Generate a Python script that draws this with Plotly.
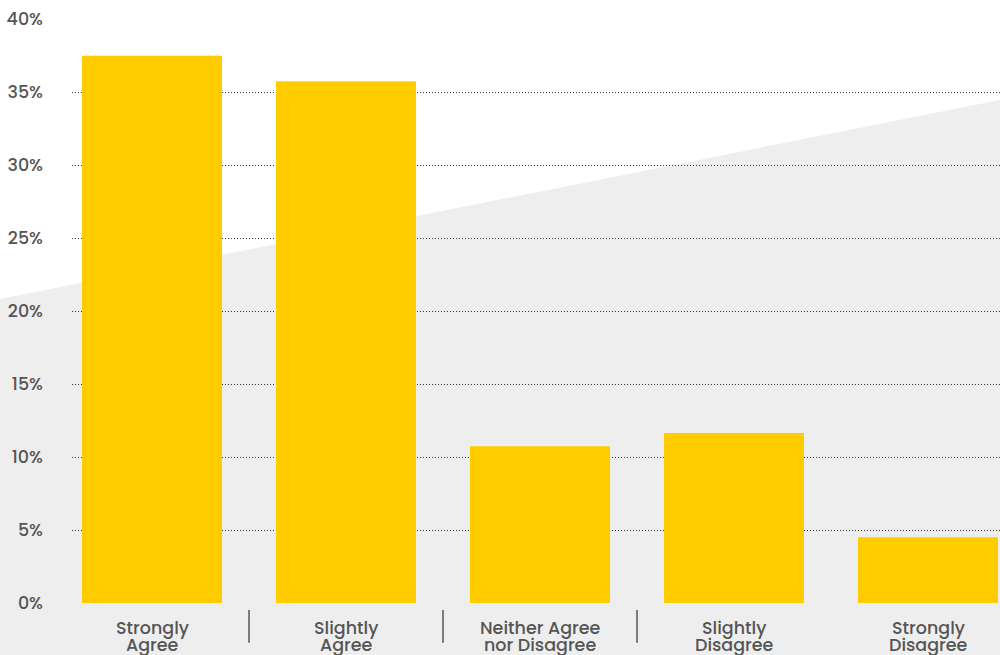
import plotly.graph_objects as go

categories = ["Strongly<br>Agree", "Slightly<br>Agree", "Neither Agree<br>nor Disagree",
              "Slightly<br>Disagree", "Strongly<br>Disagree"]
values = [37.5, 35.75, 10.75, 11.65, 4.5]
y_ticks = [0, 5, 10, 15, 20, 25, 30, 35, 40]
y_tick_labels = [f"{v}%" for v in y_ticks]
separators = [0.5, 1.5, 2.5]

FONT = "Poppins, Inter, Lato, sans-serif"
TXT = "#555555"
FS = 17.5

fig = go.Figure()
fig.add_trace(go.Bar(
    x=list(range(len(categories))), y=values,
    marker=dict(color="#FFCC00", line=dict(width=0)),
    hoverinfo="skip",
))

# gray background wedge
fig.add_shape(type="path", xref="paper", yref="paper", layer="below",
              path="M -0.0776 0.5206 L 1 0.8613 L 1 -0.2 L -0.0776 -0.2 Z",
              fillcolor="#eeeeee", line=dict(width=0))

for s in separators:
    fig.add_shape(type="line", xref="x", yref="paper", x0=s, x1=s,
                  y0=-0.012, y1=-0.068, line=dict(color=TXT, width=1.5))

# category labels (one annotation per line to get the tight line spacing)
line_y = [-0.0428, -0.0719]
for i, cat in enumerate(categories):
    for j, part in enumerate(cat.split("<br>")):
        fig.add_annotation(x=i, xref="x", y=line_y[j], yref="paper",
                           text=part, showarrow=False, xanchor="center",
                           yanchor="middle",
                           font=dict(family=FONT, size=FS, color=TXT, weight=500))

fig.update_layout(
    width=1000, height=655,
    margin=dict(l=72, r=0, t=19, b=52),
    paper_bgcolor="white", plot_bgcolor="rgba(0,0,0,0)",
    showlegend=False, bargap=0.2784,
    font=dict(family=FONT, color=TXT, size=FS),
    xaxis=dict(range=[-0.4124, 4.3711], tickmode="array",
               tickvals=list(range(len(categories))),
               showticklabels=False,
               showgrid=False, zeroline=False, showline=False, ticks=""),
    yaxis=dict(range=[0, 40.02], tickmode="array", tickvals=y_ticks,
               ticktext=y_tick_labels, showgrid=True, gridcolor="#333333",
               griddash="1px,2px", gridwidth=1,
               zeroline=True, zerolinecolor="rgba(0,0,0,0)",
               showline=False, ticks="", ticklabelstandoff=28,
               tickfont=dict(size=FS, color=TXT, weight=500)),
)

fig.write_html("out.html", config={"displayModeBar": False},
               post_script="document.body.style.margin='0';")
